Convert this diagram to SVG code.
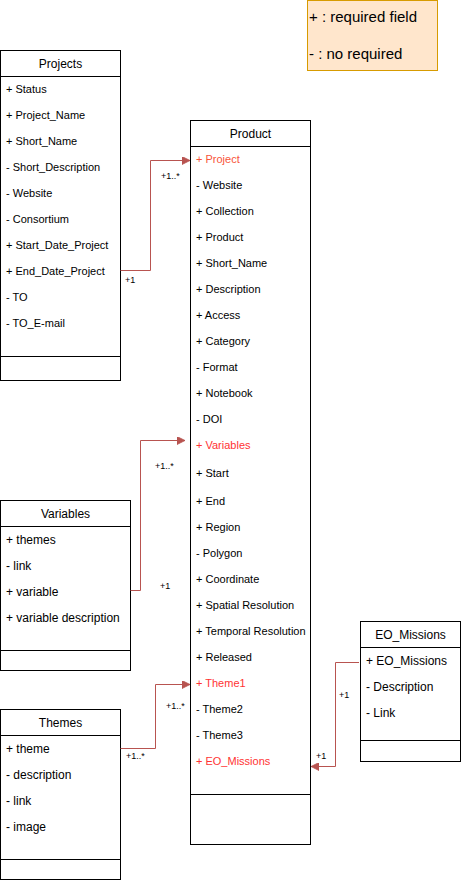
<svg xmlns="http://www.w3.org/2000/svg" width="461" height="880" viewBox="0 0 461 880">
<style>
.box{fill:#fff;stroke:#000;stroke-width:1}
.ln{stroke:#000;stroke-width:1}
.t{font-family:"Liberation Sans",Arial,sans-serif;fill:#000}
.ti{font-size:12px;text-anchor:middle}
.r11{font-size:11px}
.r12{font-size:12px}
.req{fill:#ff3333}
.req2{fill:#f8553a}
.lbl{font-family:"Liberation Sans",Arial,sans-serif;font-size:9px;fill:#000}
.edge{fill:none;stroke:#b85450;stroke-width:1}
</style>
<defs>
<marker id="arr" viewBox="0 0 10 10" refX="10" refY="5" markerWidth="8" markerHeight="8" markerUnits="userSpaceOnUse" orient="auto">
<path d="M0,0 L10,5 L0,10 Z" fill="#b85450" stroke="#b85450"/>
</marker>
</defs>

<g id="legend">
<rect x="307.5" y="0.5" width="130" height="70" fill="#ffe6cc" stroke="#d79b00"/>
<text class="t" x="309" y="22" font-size="15px">+ : required field</text>
<text class="t" x="309" y="59" font-size="15px">- : no required</text>
</g>

<g id="projects">
<rect class="box" x="0.5" y="50.5" width="120" height="330"/>
<line class="ln" x1="0.5" y1="76.5" x2="120.5" y2="76.5"/>
<line class="ln" x1="0.5" y1="356.5" x2="120.5" y2="356.5"/>
<text class="t ti" x="60.5" y="68">Projects</text>
<g class="t r11">
<text x="6" y="93">+ Status</text>
<text x="6" y="119">+ Project_Name</text>
<text x="6" y="145">+ Short_Name</text>
<text x="6" y="171">- Short_Description</text>
<text x="6" y="197">- Website</text>
<text x="6" y="223">- Consortium</text>
<text x="6" y="249">+ Start_Date_Project</text>
<text x="6" y="275">+ End_Date_Project</text>
<text x="6" y="301">- TO</text>
<text x="6" y="327">- TO_E-mail</text>
</g>
</g>

<g id="product">
<rect class="box" x="190.5" y="120.5" width="120" height="724"/>
<line class="ln" x1="190.5" y1="146.5" x2="310.5" y2="146.5"/>
<line class="ln" x1="190.5" y1="794.5" x2="310.5" y2="794.5"/>
<text class="t ti" x="250.5" y="138">Product</text>
<g class="t r11">
<text class="req2" x="196" y="163">+ Project</text>
<text x="196" y="189">- Website</text>
<text x="196" y="215">+ Collection</text>
<text x="196" y="241">+ Product</text>
<text x="196" y="267">+ Short_Name</text>
<text x="196" y="293">+ Description</text>
<text x="196" y="319">+ Access</text>
<text x="196" y="345">+ Category</text>
<text x="196" y="371">- Format</text>
<text x="196" y="397">+ Notebook</text>
<text x="196" y="423">- DOI</text>
<text class="req" x="196" y="449">+ Variables</text>
<text x="196" y="477">+ Start</text>
<text x="196" y="505">+ End</text>
<text x="196" y="531">+ Region</text>
<text x="196" y="557">- Polygon</text>
<text x="196" y="583">+ Coordinate</text>
<text x="196" y="609">+ Spatial Resolution</text>
<text x="196" y="635">+ Temporal Resolution</text>
<text x="196" y="661">+ Released</text>
<text class="req" x="196" y="687">+ Theme1</text>
<text x="196" y="713">- Theme2</text>
<text x="196" y="739">- Theme3</text>
<text class="req" x="196" y="765">+ EO_Missions</text>
</g>
</g>

<g id="variables">
<rect class="box" x="0.5" y="500.5" width="130" height="170"/>
<line class="ln" x1="0.5" y1="526.5" x2="130.5" y2="526.5"/>
<line class="ln" x1="0.5" y1="650.5" x2="130.5" y2="650.5"/>
<text class="t ti" x="65.5" y="518">Variables</text>
<g class="t r12">
<text x="6" y="544">+ themes</text>
<text x="6" y="570">- link</text>
<text x="6" y="596">+ variable</text>
<text x="6" y="622">+ variable description</text>
</g>
</g>

<g id="themes">
<rect class="box" x="0.5" y="709.5" width="120" height="170"/>
<line class="ln" x1="0.5" y1="735.5" x2="120.5" y2="735.5"/>
<line class="ln" x1="0.5" y1="859.5" x2="120.5" y2="859.5"/>
<text class="t ti" x="60.5" y="727">Themes</text>
<g class="t r12">
<text x="6" y="753">+ theme</text>
<text x="6" y="779">- description</text>
<text x="6" y="805">- link</text>
<text x="6" y="831">- image</text>
</g>
</g>

<g id="eo_missions">
<rect class="box" x="360.5" y="621.5" width="100" height="140"/>
<line class="ln" x1="360.5" y1="647.5" x2="460.5" y2="647.5"/>
<line class="ln" x1="360.5" y1="740.5" x2="460.5" y2="740.5"/>
<text class="t ti" x="410.5" y="639">EO_Missions</text>
<g class="t r12">
<text x="366" y="665">+ EO_Missions</text>
<text x="366" y="691">- Description</text>
<text x="366" y="717">- Link</text>
</g>
</g>

<g id="connectors">
<path class="edge" d="M120.5,270.5 H150.5 V160.5 H190" marker-end="url(#arr)"/>
<text class="lbl" x="125" y="283">+1</text>
<text class="lbl" x="161" y="179">+1..*</text>

<path class="edge" d="M130.5,590.5 H140.5 V440.5 H185" marker-end="url(#arr)"/>
<text class="lbl" x="160" y="589">+1</text>
<text class="lbl" x="155" y="469">+1..*</text>

<path class="edge" d="M120.5,748.5 H155.5 V684.5 H190" marker-end="url(#arr)"/>
<text class="lbl" x="126" y="759">+1..*</text>
<text class="lbl" x="166" y="709">+1..*</text>

<path class="edge" d="M359,662.5 H335.5 V766.5 H311" marker-end="url(#arr)"/>
<text class="lbl" x="339" y="698">+1</text>
<text class="lbl" x="316" y="759">+1</text>
</g>
</svg>
